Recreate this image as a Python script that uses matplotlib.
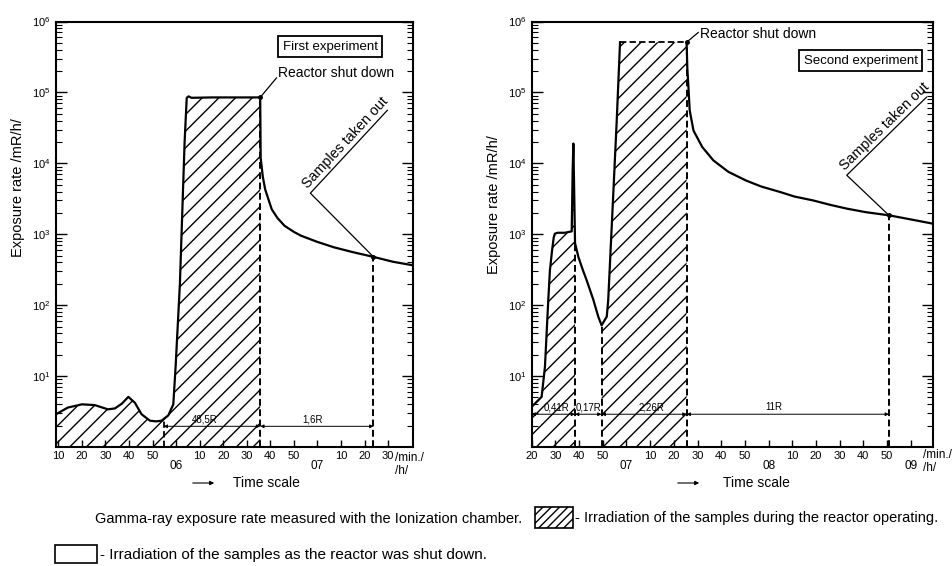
import math
import matplotlib
matplotlib.use('Agg')
import matplotlib.pyplot as plt
from matplotlib.patches import Rectangle
from matplotlib.ticker import NullFormatter

plt.rcParams['font.family'] = ['Liberation Sans', 'DejaVu Sans']
plt.rcParams['mathtext.fontset'] = 'custom'
plt.rcParams['mathtext.rm'] = 'Liberation Sans'
plt.rcParams['mathtext.default'] = 'regular'
plt.rcParams['hatch.linewidth'] = 1.0

# ---- first experiment (time = minutes after 05:00) ----
exp1_t = [9, 14, 20, 25.5, 31, 34, 37, 39.7, 42.5, 45.3, 48.9, 51.5, 53.8, 56.7,
          58.8, 59.8, 61.6, 62.6, 63.6, 64.5, 65.3, 66.5, 75, 85, 95.7,
          95.9, 96.8, 97.8, 100.6, 103, 106, 110, 113, 120, 127, 135, 143.8, 152, 160.6]
exp1_y = [2.9, 3.6, 4.0, 3.9, 3.4, 3.5, 4.1, 5.1, 4.2, 2.9, 2.35, 2.3, 2.35, 2.8,
          4.0, 14, 200, 2000, 2e4, 8.4e4, 8.8e4, 8.4e4, 8.5e4, 8.5e4, 8.5e4,
          1.2e4, 6500, 4300, 2250, 1700, 1320, 1080, 955, 780, 655, 560, 480, 410, 365]
exp1_start = 54.7       # start of 48,5R interval
exp1_shutdown = 95.7
exp1_out = 143.8
exp1_doses = ['48,5R', '1,6R']
exp1_dose_x = [72, 118]

# ---- second experiment (time = minutes after 06:00) ----
exp2_t = [20, 22, 24.2, 25.6, 27, 27.7, 28.6, 29.3, 29.8, 31, 34, 36.9,
          37.3, 37.6, 37.9, 38.3, 39.7, 41.5, 43.2, 46, 48.1, 49.5,
          51.7, 52.3, 54, 55.9, 57.3]
exp2_y = [3.7, 4.3, 5.1, 13.5, 117, 310, 590, 900, 1020, 1050, 1050, 1100,
          8000, 1.9e4, 5000, 750, 480, 320, 225, 120, 69, 52,
          69, 117, 1800, 4e4, 5.1e5]
decay2_t = [85.4, 85.7, 86.1, 86.7, 88.3, 92, 96.7, 103, 110.6, 117, 124.8,
            131, 138.8, 146, 153, 161, 170.8, 180, 189.4]
decay2_y = [5.1e5, 2.2e5, 1.3e5, 5.6e4, 2.9e4, 1.7e4, 1.1e4, 7600, 5700, 4700,
            3950, 3400, 3000, 2600, 2300, 2050, 1850, 1620, 1410]
exp2_pulse_end = 38.3
exp2_restart = 49.5
exp2_top = 5.1e5
exp2_shutdown = 85.4
exp2_out = 170.8
exp2_doses = ['0,41R', '0,17R', '2,26R', '11R']
exp2_dose_x = [30.5, 43.9, 70.7, 122]

decades = [1e1, 1e2, 1e3, 1e4, 1e5, 1e6]
decade_labels = ['10$^{1}$', '10$^{2}$', '10$^{3}$', '10$^{4}$', '10$^{5}$', '10$^{6}$']

fig = plt.figure(figsize=(9.53, 5.66), dpi=100)
ax1 = fig.add_axes([0.0588, 0.2102, 0.3746, 0.7518])
ax2 = fig.add_axes([0.5579, 0.2102, 0.4211, 0.7518])

DASH = (0, (3.5, 1.8))


def setup(ax, xlim, minute_pos, minute_lab, hour_pos, hour_lab):
    ax.set_yscale('log')
    ax.set_ylim(1, 1e6)
    ax.set_xlim(*xlim)
    ax.set_yticks(decades)
    ax.set_yticklabels(decade_labels, fontsize=8)
    ax.yaxis.set_minor_formatter(NullFormatter())
    ax.tick_params(axis='y', which='both', direction='in', left=True, right=True, pad=4)
    ax.tick_params(axis='y', which='major', length=8, width=1)
    ax.tick_params(axis='y', which='minor', length=4, width=0.8)
    ax.set_xticks(minute_pos + hour_pos)
    ax.set_xticklabels(minute_lab + [''] * len(hour_pos), fontsize=8)
    ax.tick_params(axis='x', direction='in', length=5, width=1, pad=3)
    for t, lab in zip(hour_pos, hour_lab):
        ax.annotate(lab, xy=(t, 0), xycoords=('data', 'axes fraction'),
                    xytext=(0, -9.5), textcoords='offset points',
                    ha='center', va='top', fontsize=8.5)
    for s in ax.spines.values():
        s.set_linewidth(1.5)


setup(ax1, (9, 160.6),
      [10, 20, 30, 40, 50, 70, 80, 90, 100, 110, 130, 140, 150],
      ['10', '20', '30', '40', '50', '10', '20', '30', '40', '50', '10', '20', '30'],
      [60, 120], ['06', '07'])
setup(ax2, (20, 189.4),
      [20, 30, 40, 50, 70, 80, 90, 100, 110, 130, 140, 150, 160, 170],
      ['20', '30', '40', '50', '10', '20', '30', '40', '50', '10', '20', '30', '40', '50'],
      [60, 120, 180], ['07', '08', '09'])

# ---- first panel ----
mask = [t <= exp1_shutdown for t in exp1_t]
ax1.fill_between([t for t, m in zip(exp1_t, mask) if m],
                 1, [y for y, m in zip(exp1_y, mask) if m],
                 facecolor='none', edgecolor='black', hatch='//', linewidth=0)
ax1.plot(exp1_t, exp1_y, color='black', lw=1.6)
y_start = exp1_y[exp1_t.index(53.8)]
y_shut = exp1_y[exp1_t.index(exp1_shutdown)]
y_out = exp1_y[exp1_t.index(exp1_out)]
ax1.plot([exp1_start, exp1_start], [1, y_start], color='black', lw=1.3, ls=DASH)
ax1.plot([exp1_shutdown, exp1_shutdown], [1, y_shut], color='black', lw=1.4, ls=DASH)
ax1.plot([exp1_out, exp1_out], [1, y_out], color='black', lw=1.4, ls=DASH)
ax1.plot([exp1_shutdown, exp1_out], [y_shut, y_out], 'o', color='black', ms=2.5)

bounds1 = [exp1_start, exp1_shutdown, exp1_out]
for a, b, lab, lx in zip(bounds1[:-1], bounds1[1:], exp1_doses, exp1_dose_x):
    ax1.annotate('', xy=(b, 1.96), xytext=(a, 1.96),
                 arrowprops=dict(arrowstyle='<|-|>', lw=0.7, color='black',
                                 mutation_scale=5, shrinkA=0, shrinkB=0))
    ax1.annotate(lab, xy=(lx, 1.96), xytext=(0, 1.5), textcoords='offset points',
                 ha='center', va='bottom', fontsize=7)

ax1.text(125.5, 4.4e5, 'First experiment', ha='center', va='center', fontsize=9.5,
         bbox=dict(boxstyle='square,pad=0.35', fc='white', ec='black', lw=1.3))
ax1.plot([exp1_shutdown, 102.6], [y_shut, 1.6e5], color='black', lw=0.9)
ax1.text(103.4, 1.9e5, 'Reactor shut down', ha='left', va='center', fontsize=10)

# ---- second panel ----
pulse = [t <= exp2_pulse_end for t in exp2_t]
ax2.fill_between([t for t, m in zip(exp2_t, pulse) if m], 1,
                 [y for y, m in zip(exp2_y, pulse) if m],
                 facecolor='none', edgecolor='black', hatch='//', linewidth=0)
main = [t >= exp2_restart for t in exp2_t]
ax2.fill_between([t for t, m in zip(exp2_t, main) if m] + [exp2_shutdown], 1,
                 [y for y, m in zip(exp2_y, main) if m] + [exp2_top],
                 facecolor='none', edgecolor='black', hatch='//', linewidth=0)
ax2.plot(exp2_t, exp2_y, color='black', lw=1.6)
ax2.plot(decay2_t, decay2_y, color='black', lw=1.6)
ax2.plot([exp2_t[-1], exp2_shutdown], [exp2_top, exp2_top], color='black', lw=1.3, ls=DASH)
y_pe = exp2_y[exp2_t.index(exp2_pulse_end)]
y_rs = exp2_y[exp2_t.index(exp2_restart)]
y_out2 = decay2_y[decay2_t.index(exp2_out)]
for t, y in [(exp2_pulse_end, y_pe), (exp2_restart, y_rs),
             (exp2_shutdown, exp2_top), (exp2_out, y_out2)]:
    ax2.plot([t, t], [1, y], color='black', lw=1.4, ls=DASH)
ax2.plot([exp2_shutdown, exp2_out], [exp2_top, y_out2], 'o', color='black', ms=2.5)

bounds2 = [20, exp2_pulse_end, exp2_restart, exp2_shutdown, exp2_out]
for a, b, lab, lx in zip(bounds2[:-1], bounds2[1:], exp2_doses, exp2_dose_x):
    ax2.annotate('', xy=(b, 2.9), xytext=(a, 2.9),
                 arrowprops=dict(arrowstyle='<|-|>', lw=0.7, color='black',
                                 mutation_scale=5, shrinkA=0, shrinkB=0))
    ax2.annotate(lab, xy=(lx, 2.9), xytext=(0, 1.5), textcoords='offset points',
                 ha='center', va='bottom', fontsize=7)

ax2.text(158.9, 2.8e5, 'Second experiment', ha='center', va='center', fontsize=9.5,
         bbox=dict(boxstyle='square,pad=0.35', fc='white', ec='black', lw=1.3))
ax2.plot([exp2_shutdown, 90.3], [exp2_top, 7e5], color='black', lw=0.9)
ax2.text(91, 6.7e5, 'Reactor shut down', ha='left', va='center', fontsize=10)


# "Samples taken out" with leader and underline
def samples_label(ax, pt, corner, end):
    ax.plot([pt[0], corner[0], end[0]], [pt[1], corner[1], end[1]], color='black', lw=0.9)
    p0 = ax.transData.transform(corner)
    p1 = ax.transData.transform(end)
    ang = math.degrees(math.atan2(p1[1] - p0[1], p1[0] - p0[0]))
    r = math.radians(ang)
    ax.annotate('Samples taken out', xy=corner,
                xytext=(-math.sin(r) * 1.0 + math.cos(r) * 1, math.cos(r) * 1.0 + math.sin(r) * 1),
                textcoords='offset points', rotation=ang, rotation_mode='anchor',
                ha='left', va='bottom', fontsize=10.3)


samples_label(ax1, (exp1_out, y_out), (117, 3800), (149.7, 5.6e4))
samples_label(ax2, (exp2_out, y_out2), (153, 6800), (186.7, 8.6e4))

# axis titles
fig.text(18 / 953, 1 - 188 / 566, 'Exposure rate /mR/h/', rotation=90,
         ha='center', va='center', fontsize=10.5)
fig.text(494 / 953, 1 - 205 / 566, 'Exposure rate /mR/h/', rotation=90,
         ha='center', va='center', fontsize=10.5)

fig.text(395 / 953, 1 - 458 / 566, '/min./', ha='left', va='center', fontsize=8.5)
fig.text(395 / 953, 1 - 471 / 566, '/h/', ha='left', va='center', fontsize=8.5)
fig.text(923 / 953, 1 - 455 / 566, '/min./', ha='left', va='center', fontsize=8.5)
fig.text(923 / 953, 1 - 468 / 566, '/h/', ha='left', va='center', fontsize=8.5)

for x0, x1, xt in [(190, 217, 233), (675, 702, 723)]:
    fig.add_artist(matplotlib.patches.FancyArrowPatch(
        (x0 / 953, 1 - 483 / 566), (x1 / 953, 1 - 483 / 566),
        transform=fig.transFigure, arrowstyle='-|>', mutation_scale=6,
        lw=0.8, color='black'))
    fig.text(xt / 953, 1 - 483 / 566, 'Time scale', ha='left', va='center', fontsize=10)

# footer legend
fig.text(95 / 953, 1 - 519 / 566,
         'Gamma-ray exposure rate measured with the Ionization chamber.',
         ha='left', va='center', fontsize=10.5)
fig.add_artist(Rectangle((535 / 953, 1 - 528 / 566), 38 / 953, 21 / 566,
                         transform=fig.transFigure, facecolor='none',
                         edgecolor='black', hatch='////', lw=1.2))
fig.text(575 / 953, 1 - 518 / 566,
         '- Irradiation of the samples during the reactor operating.',
         ha='left', va='center', fontsize=10.5)
fig.add_artist(Rectangle((55 / 953, 1 - 563 / 566), 42 / 953, 18 / 566,
                         transform=fig.transFigure, facecolor='none',
                         edgecolor='black', lw=1.2))
fig.text(100 / 953, 1 - 555 / 566,
         '- Irradiation of the samples as the reactor was shut down.',
         ha='left', va='center', fontsize=11)

fig.savefig('out.png', dpi=100)
